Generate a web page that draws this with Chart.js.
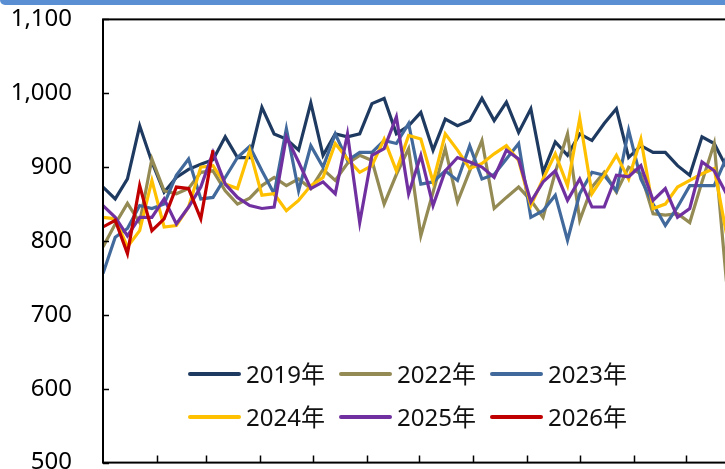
<!DOCTYPE html>
<html>
<head>
<meta charset="utf-8">
<script src="https://cdn.jsdelivr.net/npm/chart.js@4"></script>
<style>
  html, body { margin: 0; padding: 0; background: #fff; overflow: hidden; }
  #wrap { position: relative; width: 725px; height: 469px; overflow: hidden; }
  #chart { position: absolute; left: 0; top: 0; }
  #topbar { position: absolute; left: 0; top: 0; width: 760px; height: 5px; background: #5b8fd3; border-bottom-left-radius: 5px; }
  #legend { position: absolute; left: 188px; top: 352px; display: grid; grid-template-columns: repeat(3, 151px); grid-auto-rows: 43px; font: 24px "Noto Sans", "Noto Sans CJK SC", sans-serif; color: #111; }
  .item { display: flex; align-items: center; line-height: 1; }
  .swatch { width: 53px; height: 4px; border-radius: 2px; margin-right: 5px; }
</style>
</head>
<body>
<div id="wrap">
  <canvas id="chart" width="760" height="482"></canvas>
  <div id="topbar"></div>
  <div id="legend"></div>
</div>
<script>
const years = ['2019年', '2022年', '2023年', '2024年', '2025年', '2026年'];
const colors = ['#1f3a60', '#948a54', '#41699c', '#ffc000', '#7030a0', '#c00000'];

// weekly values, week 1 .. week 52
const y2019 = [873, 857, 884, 956, 907, 866, 886, 897, 904, 910, 941, 913, 913, 981, 945, 938, 923, 987, 916, 945,
  941, 945, 986, 993, 945, 956, 974, 923, 965, 956, 963, 993, 963, 988, 947, 979, 893, 934, 916, 945,
  936, 959, 979, 913, 929, 920, 920, 902, 889, 941, 932, 900];
const y2022 = [792, 823, 851, 825, 911, 868, 864, 871, 893, 895, 868, 850, 858, 875, 886, 875, 884, 871, 897, 882,
  905, 916, 909, 850, 890, 925, 807, 866, 925, 853, 895, 936, 844, 859, 873, 855, 832, 893, 945, 828,
  873, 893, 866, 900, 891, 837, 835, 837, 825, 880, 932, 745];
const y2023 = [756, 805, 817, 848, 844, 850, 889, 911, 857, 859, 886, 913, 928, 895, 864, 952, 868, 929, 900, 945,
  909, 920, 920, 936, 932, 959, 877, 880, 895, 882, 929, 884, 890, 911, 932, 832, 841, 862, 801, 864,
  893, 889, 868, 950, 884, 850, 821, 846, 875, 875, 875, 913];
const y2024 = [832, 830, 792, 814, 882, 819, 821, 846, 900, 902, 877, 871, 923, 862, 864, 841, 855, 875, 886, 932,
  911, 893, 902, 938, 895, 943, 938, 880, 945, 923, 898, 905, 918, 929, 909, 848, 884, 918, 875, 966,
  864, 889, 916, 884, 938, 844, 850, 873, 882, 891, 898, 810];
const y2025 = [848, 832, 807, 832, 832, 857, 823, 846, 873, 920, 877, 859, 848, 844, 846, 941, 907, 871, 880, 864,
  945, 825, 916, 925, 968, 864, 916, 848, 895, 913, 907, 900, 886, 923, 911, 853, 880, 895, 855, 884,
  846, 846, 889, 887, 902, 855, 871, 832, 844, 907, 895, 864];
const y2026 = [819, 828, 783, 875, 814, 830, 873, 871, 830, 923];

const series = [y2019, y2022, y2023, y2024, y2025, y2026];
const yTicks = [500, 600, 700, 800, 900, 1000, 1100];
// day of year where each month ends (x-axis tick marks)
const monthEnds = [31, 59, 90, 120, 151, 181, 212, 243, 273, 304, 334, 365];

// where the plot box sits on the page
const want = { left: 103, top: 19, right: 740.4, bottom: 462 };

function toPoints(vals) {
  return vals.map((v, i) => ({ x: i * 7, y: v }));
}

const frame = {
  id: 'frame',
  afterDatasetsDraw(chart) {
    const { ctx, chartArea: a, scales: { x, y } } = chart;
    ctx.save();
    ctx.strokeStyle = '#000';
    ctx.lineWidth = 2;
    ctx.strokeRect(a.left, a.top, a.right - a.left, a.bottom - a.top);
    ctx.lineWidth = 1.5;
    ctx.beginPath();
    yTicks.forEach(v => {
      const py = Math.round(y.getPixelForValue(v)) + 0.5;
      ctx.moveTo(a.left, py);
      ctx.lineTo(a.left + 6, py);
    });
    monthEnds.forEach(d => {
      const px = Math.round(x.getPixelForValue(d)) + 0.5;
      ctx.moveTo(px, a.bottom);
      ctx.lineTo(px, a.bottom - 7);
    });
    ctx.stroke();
    ctx.restore();
  }
};

function makeConfig() {
  return {
    type: 'line',
    data: {
      datasets: years.map((name, i) => ({
        label: name,
        data: toPoints(series[i]),
        borderColor: colors[i],
        backgroundColor: colors[i],
        borderWidth: 3.2,
        pointRadius: 0,
        tension: 0,
        order: years.length - i
      }))
    },
    options: {
      responsive: false,
      animation: false,
      layout: { padding: { top: 19, right: 19.6, bottom: 20, left: 0 } },
      plugins: {
        legend: { display: false },
        tooltip: { enabled: false }
      },
      scales: {
        x: {
          type: 'linear',
          min: 0,
          max: 365,
          grid: { display: false, drawTicks: false },
          border: { display: false },
          ticks: { display: false }
        },
        y: {
          min: 500,
          max: 1100,
          afterFit: s => { s.width = 103; },
          grid: { display: false, drawTicks: false },
          border: { display: false },
          ticks: {
            stepSize: 100,
            padding: 31,
            color: '#000',
            font: { family: '"Noto Sans", sans-serif', size: 24 },
            callback: v => v.toLocaleString('en-US')
          }
        }
      }
    },
    plugins: [frame]
  };
}

const canvas = document.getElementById('chart');
let chart = new Chart(canvas, makeConfig());

// size the canvas so the plot area lands where it is in the original
const a0 = chart.chartArea;
const newW = Math.round(canvas.width + (want.right - want.left) - (a0.right - a0.left));
const newH = Math.round(canvas.height + (want.bottom - want.top) - (a0.bottom - a0.top));
chart.destroy();
canvas.width = newW;
canvas.height = newH;
chart = new Chart(canvas, makeConfig());
const a1 = chart.chartArea;
canvas.style.left = (want.left - a1.left) + 'px';
canvas.style.top = (want.top - a1.top) + 'px';

// legend in two rows of three, like the original
const legend = document.getElementById('legend');
chart.data.datasets.forEach(ds => {
  const item = document.createElement('div');
  item.className = 'item';
  const sw = document.createElement('span');
  sw.className = 'swatch';
  sw.style.background = ds.borderColor;
  const txt = document.createElement('span');
  txt.textContent = ds.label;
  item.appendChild(sw);
  item.appendChild(txt);
  legend.appendChild(item);
});
</script>
</body>
</html>
